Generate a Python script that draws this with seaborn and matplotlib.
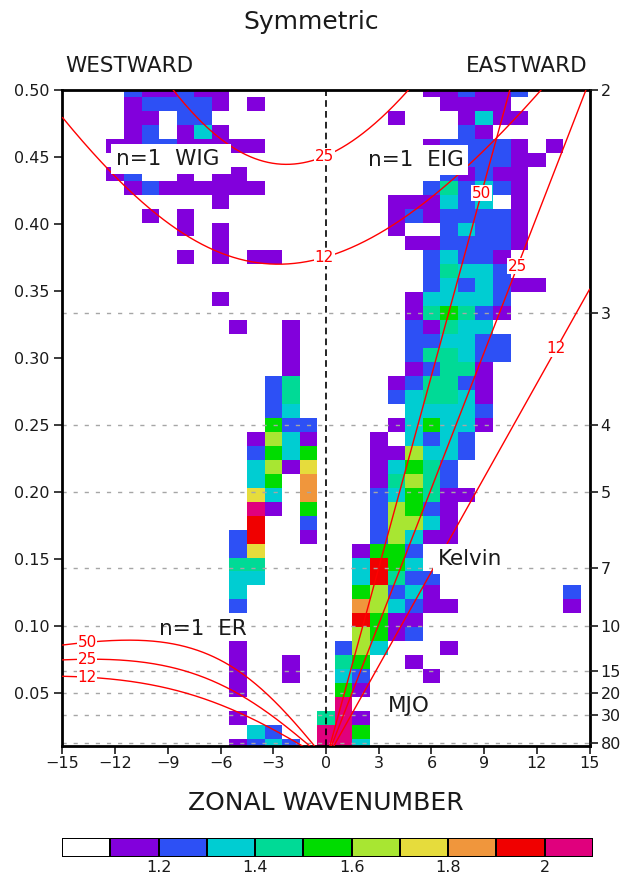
import numpy as np
import pandas as pd
import matplotlib
matplotlib.use("Agg")
import matplotlib.pyplot as plt
from matplotlib.colors import ListedColormap, BoundaryNorm
import seaborn as sns

# ---------------------------------------------------------------- data
wavenumbers = list(range(-15, 16))      # zonal wavenumber of each column
segment_days = 96                       # frequency row k sits at k/96 cpd
n_rows = 48

# Symmetric power / background, one class letter per cell.
# First string is k=48 (0.5 cpd), last is k=1; columns run s=-15..15.
power_rows = [
    "....BPPBPP...........PPBPPB....",  # 48
    "....PBBBBP.P..........PPPP.....",  # 47
    "....PP.BB..........P...PCPP....",  # 46
    "....PB.PCP.............BP......",  # 45
    "...PPBBPPPPP.........PBBBBP.P..",  # 44
    "....PPPPPP...........BBBBBPP...",  # 43
    "...PB..P.PP...........BPBPP....",  # 42
    "....PBPPPPPP.........BTBCBP....",  # 41
    ".........P.........PPPCBC.P....",  # 40
    ".....P.P...........PBPBBBBP....",  # 39
    ".......P.P.........P..BCBBP....",  # 38
    ".........P..........PPBBBBP....",  # 37
    ".......P.P.PP........BCBBP.....",  # 36
    ".....................BTCCB.....",  # 35
    ".....................BCBCBPP...",  # 34
    ".........P..........PCCCCB.....",  # 33
    "....................PTGTBP.....",  # 32
    "..........P..P......BPTCC......",  # 31
    ".............P......BBCCBB.....",  # 30
    ".............P......BTTCBB.....",  # 29
    ".............P......PBTTP......",  # 28
    "............BT.....PBTTBP......",  # 27
    "............BT.....BCTTCP......",  # 26
    "............BC......CCCCB......",  # 25
    "............GBB....PCGCCP......",  # 24
    "...........PLCP...P.CBCB.......",  # 23
    "...........BGCG...PPLCCB.......",  # 22
    "...........CLPY...PCGTB........",  # 21
    "...........CG.O...PTLTB........",  # 20
    "...........YC.O...BCGTPP.......",  # 19
    "...........MP.G...BLGBP........",  # 18
    "...........R..B...BLLCP........",  # 17
    "..........BR..P...BLCPP........",  # 16
    "..........BY.....PGGB..........",  # 15
    "..........TT.....CRGC..........",  # 14
    "..........CC.....CRTBB.........",  # 13
    "..........C......GLBCP.......B.",  # 12
    "..........B......OLCBPP......P.",  # 11
    ".................RGPP..........",  # 10
    ".................LGPB..........",  # 9
    "..........P.....BLC...P........",  # 8
    "..........P..P..TG..P..........",  # 7
    "..........P..P..CB...P.........",  # 6
    "..........P.....GP.............",  # 5
    "................M..............",  # 4
    "..........P....TMP.............",  # 3
    "...........CB..MMG.............",  # 2
    "..........PBCB.MMC.............",  # 1
]
class_value = {".": np.nan, "P": 1.15, "B": 1.25, "C": 1.35, "T": 1.45,
               "G": 1.55, "L": 1.65, "Y": 1.75, "O": 1.85, "R": 1.95, "M": 2.05}

levels = [1.1, 1.2, 1.3, 1.4, 1.5, 1.6, 1.7, 1.8, 1.9, 2.0, 2.1]
level_colors = ["#8200dc", "#2d50f5", "#00cdd2", "#00da96", "#00dc00",
                "#a8e632", "#e6dc3c", "#f0963c", "#f00000", "#e0007d"]
cbar_ticks = [1.2, 1.4, 1.6, 1.8, 2.0]
cbar_labels = ["1.2", "1.4", "1.6", "1.8", "2"]

equiv_depths = [12, 25, 50]                      # metres
period_lines = [3, 4, 5, 7, 10, 15, 20, 30, 80]  # days
period_ticks = [2, 3, 4, 5, 7, 10, 15, 20, 30, 80]

# ---------------------------------------------------------------- grid
grid = np.array([[class_value[ch] for ch in row.ljust(31, ".")[:31]]
                 for row in power_rows])[::-1]          # ascending k
x_edges = np.arange(-15.5, 16.0, 1.0)
y_edges = np.arange(0.5, n_rows + 1.0, 1.0) / segment_days

# ------------------------------------------- shallow-water dispersion curves
g, a_earth, omega = 9.81, 6.371e6, 7.292e-5
beta = 2.0 * omega / a_earth
to_cpd = 86400.0 / (2.0 * np.pi)


def kelvin(s, h):
    c = np.sqrt(g * h)
    return c * (s / a_earth) * to_cpd


def rossby_n1(s, h):
    c = np.sqrt(g * h)
    k = s / a_earth
    return -beta * k / (k ** 2 + 3.0 * beta / c) * to_cpd


def gravity_n1(s, h):
    c = np.sqrt(g * h)
    out = []
    for k in s / a_earth:
        r = np.roots([1.0, 0.0, -(c * c * k * k + 3.0 * beta * c), -beta * c * c * k])
        out.append(r.real.max())
    return np.array(out) * to_cpd


frames = []
for h in equiv_depths:
    s = np.linspace(0, 15, 301)
    frames.append(pd.DataFrame({"s": s, "f": kelvin(s, h), "curve": f"kelvin{h}"}))
    s = np.linspace(-15, 0, 301)
    frames.append(pd.DataFrame({"s": s, "f": rossby_n1(s, h), "curve": f"er{h}"}))
    s = np.linspace(-15, 15, 601)
    frames.append(pd.DataFrame({"s": s, "f": gravity_n1(s, h), "curve": f"ig{h}"}))
curves = pd.concat(frames, ignore_index=True)

# ---------------------------------------------------------------- figure
sns.set_theme(style="white")
plt.rcParams["font.family"] = ["DejaVu Sans"]
text_color = "#1a1a1a"

fig = plt.figure(figsize=(6.23, 8.74), dpi=100)
ax = fig.add_axes([0.1003, 0.1465, 0.8461, 0.7506])
ax.set_facecolor("white")

cmap = ListedColormap(level_colors)
norm = BoundaryNorm(levels, cmap.N)
ax.pcolormesh(x_edges, y_edges, np.ma.masked_invalid(grid), cmap=cmap, norm=norm,
              zorder=1)

for p in period_lines:
    ax.axhline(1.0 / p, color="#a6a6a6", lw=1.0, dashes=(3, 5), zorder=2)
ax.axvline(0, color="black", lw=1.2, dashes=(4, 2.5), zorder=3)

sns.lineplot(data=curves, x="s", y="f", units="curve", estimator=None, sort=False,
             color="red", linewidth=1.0, legend=False, ax=ax, zorder=4)

# curve labels (equivalent depth)
lab_kw = dict(color="red", fontsize=11, ha="center", va="center", zorder=6,
              bbox=dict(facecolor="white", edgecolor="none", pad=0.6))
kelvin_label_s = {50: 8.85, 25: 10.9, 12: 13.1}
for h in equiv_depths:
    s0 = kelvin_label_s[h]
    ax.text(s0, kelvin(s0, h), str(h), **lab_kw)
    ax.text(-13.6, rossby_n1(np.array([-13.6]), h)[0], str(h), **lab_kw)
for h in [25, 12]:
    ax.text(-0.1, gravity_n1(np.array([-0.1]), h)[0], str(h), **lab_kw)

# wave-type labels
box = dict(facecolor="white", edgecolor="none", pad=3.5)
wave_kw = dict(fontsize=15.5, color=text_color, va="center", zorder=7)
ax.text(-11.95, 0.4485, "n=1  WIG ", ha="left", bbox=box, **wave_kw)
ax.text(5.1, 0.448, "n=1  EIG", ha="center", bbox=box, **wave_kw)
ax.text(-7.0, 0.0974, "n=1  ER", ha="center", **wave_kw)
ax.text(8.2, 0.150, "Kelvin", ha="center", bbox=box, **wave_kw)
ax.text(4.7, 0.040, "MJO", ha="center", **wave_kw)

ax.set_xlim(-15, 15)
ax.set_ylim(1.0 / segment_days, 0.5)
ax.set_xticks(range(-15, 16, 3))
ax.set_yticks(np.arange(0.05, 0.501, 0.05))
ax.set_yticklabels([f"{v:.2f}" for v in np.arange(0.05, 0.501, 0.05)])
ax.set_xlabel("")
ax.set_ylabel("")
ax.grid(False)
ax.tick_params(axis="both", which="both", direction="out", length=6, width=1.2,
               labelsize=11.5, colors=text_color, top=False, right=False,
               bottom=True, left=True)
ax.tick_params(axis="x", pad=1.5)
for sp in ax.spines.values():
    sp.set_linewidth(2)
    sp.set_color("black")

ax2 = ax.twinx()
ax2.set_ylim(ax.get_ylim())
ax2.set_yticks([1.0 / p for p in period_ticks])
ax2.set_yticklabels([str(p) for p in period_ticks])
ax2.tick_params(axis="y", direction="out", length=6, width=1.2, labelsize=11.5,
                colors=text_color, right=True, pad=2)
ax2.grid(False)
for sp in ax2.spines.values():
    sp.set_visible(False)

fig.text(0.5, 1 - 22 / 874, "Symmetric", ha="center", va="center", fontsize=18,
         color=text_color)
fig.text(65 / 623, 1 - 66 / 874, "WESTWARD", ha="left", va="center",
         fontsize=15.5, color=text_color)
fig.text(588 / 623, 1 - 66 / 874, "EASTWARD", ha="right", va="center",
         fontsize=15.5, color=text_color)
fig.text(326 / 623, 1 - 803 / 874, "ZONAL WAVENUMBER", ha="center", va="center",
         fontsize=18, color=text_color)

# colour key
cax = fig.add_axes([62 / 623, 1 - 857 / 874, 531 / 623, 19 / 874])
key_values = np.array([[1.05] + [lo + 0.05 for lo in levels[:-1]]])
sns.heatmap(key_values, cmap=ListedColormap(["white"] + level_colors),
            vmin=1.0, vmax=2.1, cbar=False, linewidths=1.2, linecolor="black",
            ax=cax)
cax.set_xticks([round((t - 1.0) * 10) for t in cbar_ticks])
cax.set_xticklabels(cbar_labels, rotation=0)
cax.set_yticks([])
cax.tick_params(axis="x", length=0, pad=2, labelsize=11.5, colors=text_color)

fig.savefig("out.png", dpi=100)
